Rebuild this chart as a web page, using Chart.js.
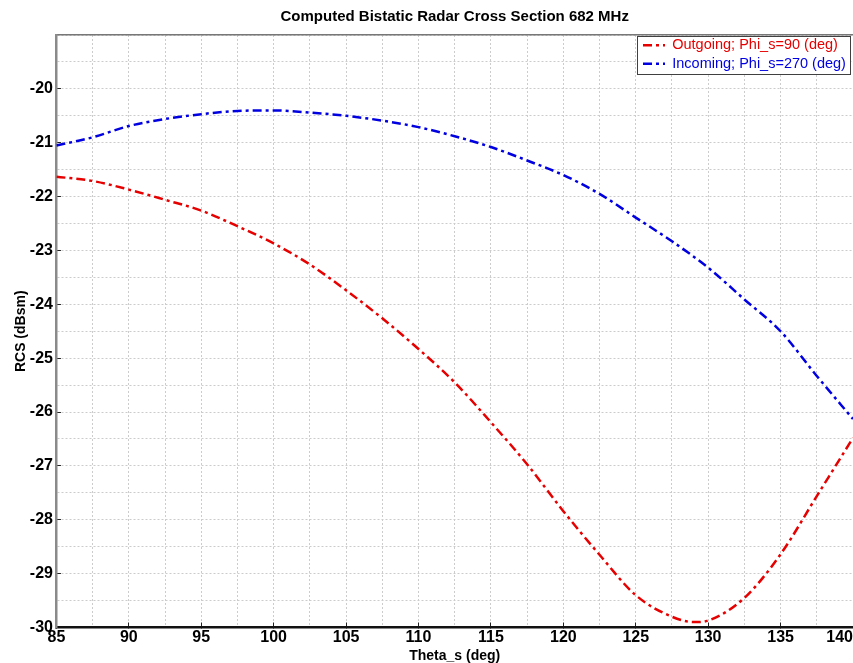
<!DOCTYPE html>
<html>
<head>
<meta charset="utf-8">
<script src="https://cdn.jsdelivr.net/npm/chart.js@4/dist/chart.umd.min.js"></script>
<style>
html,body{margin:0;padding:0;background:#fff;overflow:hidden}
canvas{display:block}
</style>
</head>
<body>
<canvas id="c" width="853" height="663"></canvas>
<script>
// ---- data ----
const chartTitle = 'Computed Bistatic Radar Cross Section 682 MHz';
const xTitle = 'Theta_s (deg)';
const yTitle = 'RCS (dBsm)';
const seriesNames = ['Outgoing; Phi_s=90 (deg)', 'Incoming; Phi_s=270 (deg)'];

const thetaOut = [85, 87.5, 90, 92.5, 95, 97.5, 100, 102.5, 105, 107.5, 110, 112.5, 115, 117.5, 120, 122.5, 125, 127.5, 129, 130, 132.5, 135, 137.5, 140];
const rcsOut   = [-21.63, -21.71, -21.87, -22.06, -22.26, -22.55, -22.87, -23.26, -23.74, -24.26, -24.83, -25.45, -26.19, -26.97, -27.84, -28.65, -29.40, -29.80, -29.90, -29.87, -29.45, -28.64, -27.56, -26.48];

const thetaIn = [85, 87.5, 90, 92.5, 95, 97.5, 100, 102.5, 105, 107.5, 110, 112.5, 115, 117.5, 120, 122.5, 125, 127.5, 130, 132.5, 135, 137.5, 140];
const rcsIn   = [-21.05, -20.90, -20.69, -20.56, -20.47, -20.41, -20.40, -20.44, -20.50, -20.59, -20.71, -20.88, -21.08, -21.33, -21.60, -21.95, -22.39, -22.83, -23.32, -23.91, -24.50, -25.33, -26.13];

const xTickLabels = [85, 90, 95, 100, 105, 110, 115, 120, 125, 130, 135, 140];
const yTickLabels = [-30, -29, -28, -27, -26, -25, -24, -23, -22, -21, -20];

// ---- styling ----
const FONT = "'Liberation Sans', Arial, Helvetica, sans-serif";
const RED = '#e60000';
const BLUE = '#0000e0';
const GRID = '#cccccc';
const DASH = [9, 4, 3, 4];

const isLabelled = (arr, v) => arr.some(t => Math.abs(t - v) < 1e-6);

const tweaks = {
  id: 'tweaks',
  afterInit(chart) {
    const lg = chart.legend;
    if (!lg) return;
    const orig = lg.draw;
    lg.draw = function (area) {
      const ca = chart.chartArea, ctx = chart.ctx;
      const x = Math.round(this.left - 2) + 0.5;
      const y = Math.round(ca.top + 1) + 0.5;
      const w = Math.round(ca.right - 3 - x);
      const h = 38;
      ctx.save();
      ctx.fillStyle = '#ffffff';
      ctx.fillRect(x, y, w, h);
      ctx.strokeStyle = '#404040';
      ctx.lineWidth = 1;
      ctx.strokeRect(x, y, w, h);
      ctx.restore();
      return orig.call(this, area);
    };
  },
  afterLayout(chart) {
    const lg = chart.legend, ca = chart.chartArea;
    if (!lg) return;
    lg.left = ca.right - 214;
    lg.right = ca.right - 3;
    lg.width = lg.right - lg.left;
    lg.top = ca.top - 1;
    lg.bottom = ca.bottom;
    lg.height = lg.bottom - lg.top;
  },
  beforeDraw(chart) {
    const xs = chart.scales.x;
    if (!xs || !xs.getLabelItems) return;
    const items = xs.getLabelItems(chart.chartArea);
    const last = items[items.length - 1];
    if (last && String(last.label) === '140') last.options.textAlign = 'right';
  }
};

Chart.defaults.font.family = FONT;
Chart.defaults.color = '#000';

new Chart(document.getElementById('c'), {
  type: 'line',
  data: {
    datasets: [
      {
        label: seriesNames[0],
        data: thetaOut.map((t, i) => ({x: t, y: rcsOut[i]})),
        borderColor: RED,
        backgroundColor: RED,
        borderWidth: 2.5,
        borderDash: DASH,
        pointRadius: 0,
        fill: false,
        cubicInterpolationMode: 'monotone'
      },
      {
        label: seriesNames[1],
        data: thetaIn.map((t, i) => ({x: t, y: rcsIn[i]})),
        borderColor: BLUE,
        backgroundColor: BLUE,
        borderWidth: 2.5,
        borderDash: DASH,
        pointRadius: 0,
        fill: false,
        cubicInterpolationMode: 'monotone'
      }
    ]
  },
  options: {
    responsive: false,
    animation: false,
    devicePixelRatio: 1,
    layout: {padding: 0, autoPadding: false},
    plugins: {
      title: {
        display: true,
        fullSize: false,
        text: chartTitle,
        color: '#000',
        font: {size: 15, weight: 'bold', family: FONT},
        padding: {top: 8, bottom: 9}
      },
      legend: {
        display: true,
        position: 'chartArea',
        fullSize: false,
        align: 'start',
        labels: {
          usePointStyle: true,
          pointStyle: 'line',
          pointStyleWidth: 22,
          padding: 4,
          font: {size: 14.5, weight: 'normal', family: FONT},
          generateLabels(chart) {
            const items = Chart.defaults.plugins.legend.labels.generateLabels(chart);
            items.forEach((it, i) => {
              const ds = chart.data.datasets[i];
              it.fontColor = ds.borderColor;
              it.strokeStyle = ds.borderColor;
              it.lineDash = ds.borderDash;
              it.lineWidth = ds.borderWidth;
            });
            return items;
          }
        }
      },
      tooltip: {enabled: false}
    },
    scales: {
      x: {
        type: 'linear',
        position: 'bottom',
        min: 85,
        max: 140,
        afterFit(scale) { scale.paddingRight = 0; },
        ticks: {
          stepSize: 2.5,
          autoSkip: false,
          maxRotation: 0,
          minRotation: 0,
          padding: 5.4,
          color: '#000',
          font: {size: 16, weight: 'bold', family: FONT},
          callback: (v) => isLabelled(xTickLabels, v) ? String(v) : ''
        },
        grid: {
          color: GRID,
          lineWidth: 1,
          drawTicks: true,
          tickLength: -5,
          tickWidth: 1,
          tickColor: (c) => (c.tick && isLabelled(xTickLabels, c.tick.value)) ? '#222' : 'rgba(0,0,0,0)'
        },
        border: {display: true, color: '#111', width: 2.5, dash: [2, 2]},
        title: {
          display: true,
          text: xTitle,
          color: '#000',
          font: {size: 14, weight: 'bold', family: FONT},
          padding: {top: -4.3, bottom: -2}
        }
      },
      xTop: {
        type: 'linear',
        position: 'top',
        min: 85,
        max: 140,
        ticks: {display: false},
        grid: {drawOnChartArea: false, drawTicks: false},
        border: {display: true, color: '#777', width: 1.5}
      },
      y: {
        type: 'linear',
        position: 'left',
        min: -30,
        max: -19,
        ticks: {
          stepSize: 0.5,
          autoSkip: false,
          padding: 8,
          color: '#000',
          font: {size: 16, weight: 'bold', family: FONT},
          callback: (v) => isLabelled(yTickLabels, v) ? String(Math.round(v)) : ''
        },
        grid: {
          color: GRID,
          lineWidth: 1,
          drawTicks: true,
          tickLength: -4.5,
          tickWidth: 1,
          tickColor: (c) => (c.tick && isLabelled(yTickLabels, c.tick.value)) ? '#222' : 'rgba(0,0,0,0)'
        },
        border: {display: true, color: '#8a8a8a', width: 2.5, dash: [2, 2]},
        title: {
          display: true,
          text: yTitle,
          color: '#000',
          font: {size: 14, weight: 'bold', family: FONT},
          padding: {top: 13, bottom: -8}
        }
      }
    }
  },
  plugins: [tweaks]
});
</script>
</body>
</html>
